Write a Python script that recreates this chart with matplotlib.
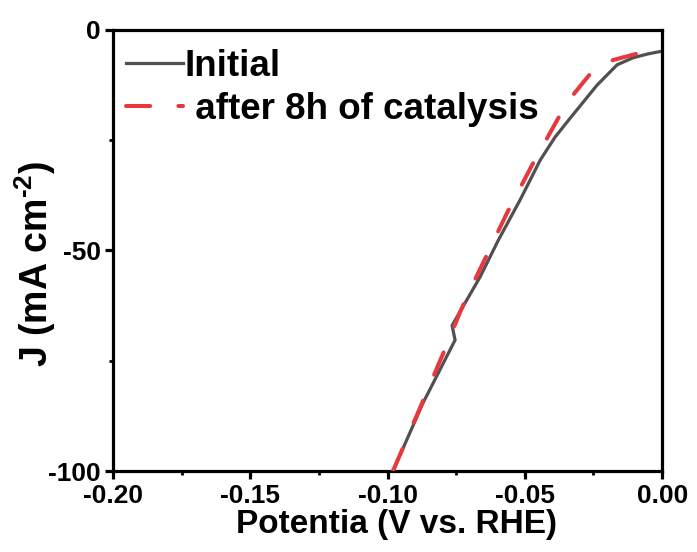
import matplotlib
matplotlib.use("Agg")
import matplotlib.pyplot as plt
from matplotlib.ticker import MultipleLocator, FormatStrFormatter

plt.rcParams['font.family'] = ['Liberation Sans', 'DejaVu Sans']
plt.rcParams['font.weight'] = 'bold'
plt.rcParams['axes.unicode_minus'] = False
plt.rcParams['mathtext.fontset'] = 'custom'
plt.rcParams['mathtext.rm'] = 'Liberation Sans:bold'
plt.rcParams['mathtext.bf'] = 'Liberation Sans:bold'
plt.rcParams['mathtext.it'] = 'Liberation Sans:bold'
plt.rcParams['mathtext.default'] = 'rm'

# Polarization curves (potential in V vs. RHE, current density in mA cm^-2)
initial_v = [-0.098, -0.0871, -0.0754, -0.0765, -0.0663, -0.0596, -0.0517,
             -0.0444, -0.0390, -0.0335, -0.0237, -0.0164, -0.0106, -0.0050, 0.0]
initial_j = [-100, -84.6, -70.3, -67.0, -56.0, -47.6, -38.5,
             -29.5, -24.3, -20.0, -12.5, -7.9, -6.3, -5.4, -4.8]

after_v = [-0.098, -0.0795, -0.0736, -0.070, -0.0652, -0.0565, -0.047,
           -0.0372, -0.0324, -0.0251, -0.0178, -0.0069, 0.0]
after_j = [-100, -73.0, -64.0, -59.0, -52.8, -41.5, -30.2,
           -19.3, -14.7, -9.1, -6.8, -5.0, -4.1]

series_labels = ['Initial', ' after 8h of catalysis']
x_ticks = [-0.20, -0.15, -0.10, -0.05, 0.00]
y_ticks = [-100, -50, 0]

fig = plt.figure(figsize=(6.97, 5.52), dpi=100)
ax = fig.add_axes([0.162, 0.1467, 0.788, 0.799])

ax.plot(initial_v, initial_j, color='#505050', lw=2.3, label=series_labels[0],
        solid_joinstyle='miter', zorder=2)
ax.plot(after_v, after_j, color='#e8373d', lw=2.9, dashes=(6, 7),
        dash_capstyle='round', label=series_labels[1], zorder=3)

ax.set_xlim(-0.20, 0.0)
ax.set_ylim(-100, 0)
ax.set_xticks(x_ticks)
ax.set_yticks(y_ticks)
ax.xaxis.set_major_formatter(FormatStrFormatter('%.2f'))
ax.xaxis.set_minor_locator(MultipleLocator(0.025))
ax.yaxis.set_minor_locator(MultipleLocator(25))

for s in ax.spines.values():
    s.set_linewidth(2.3)
ax.tick_params(which='major', direction='out', length=5.5, width=2.3,
               labelsize=19, pad=4)
ax.tick_params(which='minor', direction='out', length=3, width=2.0)
ax.tick_params(axis='y', which='major', pad=3)
for lab in ax.get_xticklabels() + ax.get_yticklabels():
    lab.set_fontweight('bold')

ax.set_xlabel('Potentia (V vs. RHE)', fontsize=24, fontweight='bold', labelpad=1)
ax.xaxis.set_label_coords(0.516, -0.085)
ax.set_ylabel('J (mA cm$^{\u2010 2}$)', fontsize=27, fontweight='bold')
ax.yaxis.set_label_coords(-0.100, 0.47)

leg = ax.legend(loc='upper left', bbox_to_anchor=(0.003, 0.982), frameon=False,
                fontsize=26.5, handlelength=1.55, handletextpad=0.06,
                labelspacing=0.22, borderaxespad=0.0, borderpad=0.3)
for t in leg.get_texts():
    t.set_fontweight('bold')

fig.savefig('out.png', dpi=100)
